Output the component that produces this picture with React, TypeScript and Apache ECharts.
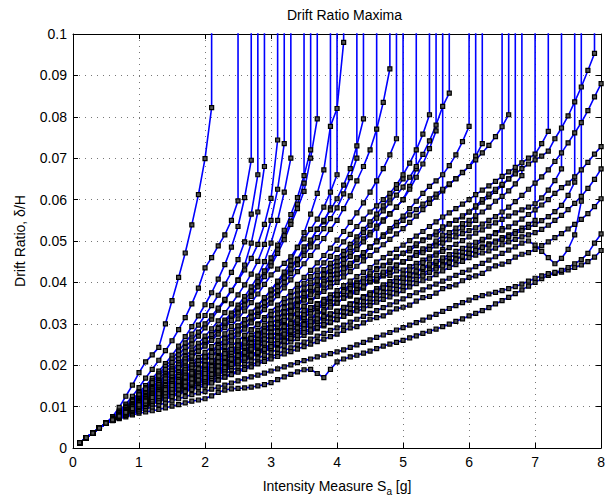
import React, { useEffect, useRef } from "react";
import * as echarts from "echarts";

// Intensity measure step (g) and the elastic branch shared by every record (drift in per mille, Sa = 0.1 .. 0.5)
const SA_STEP = 0.1;
const ELASTIC = [1.3, 2.5, 3.6, 4.8, 6.0];
// drift value used for a collapsed record (off the chart, gives the vertical line)
const COLLAPSE_DRIFT = 10;

const X_TICKS = [0, 1, 2, 3, 4, 5, 6, 7, 8];
const Y_TICKS = [0, 0.01, 0.02, 0.03, 0.04, 0.05, 0.06, 0.07, 0.08, 0.09, 0.1];

// Each record: drift ratio in per mille, from Sa = 0.6 g in steps of 0.1 g
const R01 = [7.6, 9.8, 12.5, 15.2, 18.2, 20.8, 22.5, 24.3, 30.0, 35.6, 41.2, 47.1, 53.9, 61.2, 69.9, 82.2];
const R02 = [7.3, 8.9, 10.6, 12.5, 14.6, 16.9, 19.0, 21.2, 23.5, 25.9, 28.6, 31.5, 34.8, 38.6, 43.5, 46.0, 48.8, 51.5, 55.0, 59.7];
const R03 = [7.1, 8.6, 10.1, 11.7, 13.4, 15.1, 16.8, 18.6, 20.4, 22.4, 24.6, 26.9, 29.3, 31.9, 34.6, 37.5, 40.8, 44.3, 48.5, 53.5, 60.5, 69.5];
const R04 = [7.0, 8.4, 9.9, 11.4, 13.0, 14.6, 16.2, 17.9, 19.7, 21.5, 23.4, 25.4, 27.5, 29.7, 32.0, 34.4, 36.9, 39.6, 42.4, 45.5, 49.8, 56.5, 66.0];
const R05 = [6.9, 8.2, 9.6, 11.0, 12.5, 13.9, 15.3, 16.8, 18.3, 19.9, 21.6, 23.3, 25.1, 27.0, 29.0, 31.1, 33.3, 35.6, 38.0, 40.6, 44.2, 49.5, 57.0, 68.0];
const R06 = [7.0, 8.4, 9.8, 11.3, 12.8, 14.3, 15.8, 17.4, 19.0, 20.7, 22.5, 24.3, 26.1, 28.0, 30.0, 31.9, 33.8, 35.9, 38.1, 40.5, 43.0, 45.8, 49.2, 54.0, 60.3, 74.4];
const R07 = [6.9, 8.1, 9.4, 10.7, 12.0, 13.4, 14.8, 16.2, 17.6, 19.1, 20.6, 22.1, 23.7, 25.3, 27.0, 28.8, 30.7, 32.7, 34.8, 37.0, 39.4, 42.0, 45.1, 49.2, 55.0, 62.5, 73.5];
const R08 = [6.9, 8.0, 9.3, 10.6, 12.0, 13.3, 14.6, 15.9, 17.3, 18.6, 20.0, 21.4, 22.9, 24.4, 26.0, 27.5, 29.2, 30.9, 32.6, 34.5, 36.6, 38.9, 41.5, 45.0, 49.5, 55.0, 61.8, 70.0];
const R09 = [6.8, 7.9, 9.1, 10.3, 11.5, 12.7, 13.9, 15.1, 16.4, 17.7, 19.0, 20.4, 21.8, 23.3, 24.9, 26.5, 28.1, 29.6, 31.3, 33.0, 34.8, 36.9, 39.2, 41.9, 44.8, 47.9, 51.3, 54.8, 58.9, 64.0];
const R10 = [6.9, 8.0, 9.2, 10.5, 11.8, 13.1, 14.4, 15.8, 17.2, 18.6, 20.1, 21.5, 22.9, 24.4, 26.0, 27.4, 28.9, 30.4, 32.1, 33.8, 35.7, 37.9, 40.2, 42.8, 45.9, 49.0, 52.6, 56.4, 60.5, 65.8, 72.0];
const R11 = [6.8, 7.9, 9.0, 10.2, 11.5, 12.7, 14.0, 15.3, 16.7, 18.0, 19.4, 20.8, 22.2, 23.4, 24.6, 26.0, 27.5, 29.1, 30.8, 32.6, 34.5, 36.6, 38.9, 41.4, 44.0, 47.0, 50.3, 54.0, 57.8, 62.0, 70.0, 79.5];
const R12 = [6.8, 7.8, 8.9, 10.0, 11.0, 12.1, 13.2, 14.3, 15.5, 16.7, 17.9, 19.0, 20.2, 21.2, 22.2, 23.4, 24.8, 26.3, 27.8, 29.4, 31.0, 32.7, 34.4, 36.2, 38.0, 40.2, 41.5, 44.1, 45.6, 48.6, 49.8, 52.9, 54.6, 58.0];
const R13 = [6.8, 7.9, 9.0, 10.1, 11.2, 12.4, 13.5, 14.7, 15.9, 17.1, 18.3, 19.5, 20.7, 21.9, 23.1, 24.5, 26.0, 27.6, 29.4, 31.2, 33.1, 35.1, 37.2, 39.5, 41.8, 43.2, 44.6, 46.2, 48.5, 50.5, 52.8, 55.3, 58.2, 61.8, 66.0];
const R14 = [6.8, 7.8, 8.9, 10.0, 11.0, 12.0, 13.0, 14.1, 15.2, 16.4, 17.6, 18.8, 20.0, 21.1, 22.0, 23.3, 24.8, 26.4, 28.0, 29.5, 31.0, 32.8, 34.5, 36.3, 38.2, 40.3, 42.5, 45.2, 48.4, 52.0, 56.5, 61.5, 67.2, 77.7, 82.0, 98.0];
const R15 = [6.8, 7.8, 8.8, 9.8, 10.8, 11.8, 12.8, 13.9, 15.0, 16.1, 17.2, 18.3, 19.4, 20.4, 21.3, 22.4, 23.6, 24.9, 26.3, 27.7, 29.1, 30.6, 32.2, 34.0, 36.0, 38.0, 40.0, 42.1, 44.3, 46.5, 48.6, 50.8, 53.0, 55.4, 58.0, 61.4, 65.3, 70.0];
const R16 = [6.8, 7.8, 8.8, 9.8, 10.9, 12.0, 13.1, 14.2, 15.3, 16.5, 17.7, 18.9, 20.0, 21.0, 22.0, 23.1, 24.3, 25.6, 27.0, 28.5, 30.0, 31.6, 33.3, 35.1, 37.0, 39.0, 41.1, 43.2, 45.5, 47.8, 50.2, 52.8, 55.0, 57.5, 60.2, 63.5, 67.5, 73.0, 79.5];
const R17 = [6.7, 7.6, 8.6, 9.6, 10.5, 11.4, 12.3, 13.2, 14.1, 15.0, 15.9, 16.8, 17.6, 18.3, 19.0, 19.9, 20.9, 22.0, 23.2, 24.3, 25.5, 26.6, 27.7, 28.9, 30.0, 31.2, 32.9, 33.4, 35.3, 35.9, 37.8, 38.2, 40.1, 40.6, 42.0, 43.6, 44.1, 45.9, 46.4, 48.5, 50.0];
const R18 = [6.8, 7.9, 9.0, 10.0, 11.0, 12.0, 13.0, 14.0, 15.1, 16.2, 17.3, 18.3, 19.3, 20.2, 21.0, 22.1, 23.3, 24.5, 25.9, 27.3, 28.7, 30.2, 31.8, 33.4, 35.0, 36.8, 38.7, 40.6, 42.6, 44.5, 46.5, 48.6, 50.6, 52.8, 55.0, 57.8, 60.9, 64.5, 68.0, 72.0, 77.0, 83.5, 91.6];
const R19 = [6.7, 7.7, 8.7, 9.6, 10.6, 11.6, 12.5, 13.5, 14.5, 15.5, 16.5, 17.4, 18.4, 19.3, 20.1, 21.1, 22.2, 23.4, 24.6, 25.9, 27.2, 28.6, 30.0, 31.5, 33.0, 34.5, 36.1, 37.8, 39.5, 41.2, 42.9, 44.7, 46.5, 48.3, 50.2, 52.3, 54.5, 56.8, 59.2, 61.8, 64.5, 67.5, 70.8, 74.7];
const R20 = [6.7, 7.7, 8.7, 9.6, 10.5, 11.4, 12.4, 13.3, 14.3, 15.3, 16.3, 17.3, 18.2, 19.0, 19.6, 20.5, 21.5, 22.6, 23.7, 24.9, 26.0, 27.2, 28.4, 29.7, 31.0, 32.4, 33.9, 35.5, 37.0, 38.6, 40.1, 41.7, 43.1, 44.6, 46.0, 47.5, 49.2, 51.0, 52.8, 54.6, 56.5, 58.5, 60.6, 62.7, 65.0];
const R21 = [6.7, 7.6, 8.6, 9.5, 10.3, 11.2, 12.2, 13.1, 14.0, 15.0, 15.9, 16.8, 17.6, 18.4, 19.0, 19.9, 20.9, 21.9, 22.9, 24.0, 25.1, 26.3, 27.5, 28.7, 30.0, 31.4, 32.8, 34.3, 35.8, 37.4, 38.8, 40.2, 41.6, 42.9, 44.0, 45.5, 47.1, 48.8, 50.5, 52.1, 53.6, 55.1, 56.6, 58.2, 60.0, 63.2, 67.4];
const R22 = [6.8, 7.7, 8.7, 9.6, 10.6, 11.6, 12.6, 13.6, 14.6, 15.6, 16.6, 17.6, 18.5, 19.3, 20.0, 21.0, 22.1, 23.3, 24.6, 25.9, 27.2, 28.5, 29.8, 31.0, 32.2, 33.6, 35.1, 36.6, 38.2, 39.8, 41.4, 43.0, 44.7, 46.3, 48.0, 49.8, 51.6, 53.5, 55.3, 57.0, 58.5, 60.0, 61.5, 63.6, 66.0, 68.8, 72.0, 75.8, 80.5];
const R23 = [6.7, 7.6, 8.5, 9.4, 10.2, 11.1, 12.0, 12.9, 13.8, 14.7, 15.6, 16.4, 17.2, 17.9, 18.5, 19.4, 20.4, 21.4, 22.4, 23.4, 24.5, 25.6, 26.7, 27.9, 29.0, 30.3, 31.7, 33.1, 34.6, 36.0, 37.4, 38.9, 40.3, 41.7, 43.0, 44.6, 46.3, 48.0, 49.8, 51.5, 53.1, 54.8, 56.5, 58.2, 60.0, 62.5, 65.4, 68.6, 72.3, 76.6];
const R24 = [6.7, 7.6, 8.4, 9.2, 10.0, 10.8, 11.6, 12.4, 13.1, 13.8, 14.6, 15.3, 16.0, 16.5, 17.0, 17.9, 18.9, 19.9, 20.9, 21.9, 22.9, 23.9, 25.0, 26.0, 27.0, 28.0, 29.0, 29.9, 30.9, 31.8, 32.7, 33.6, 34.4, 35.2, 36.0, 37.2, 37.3, 38.6, 38.9, 40.2, 40.3, 41.6, 41.7, 42.8, 43.0, 43.8, 44.6, 45.4, 46.2, 47.1, 48.0];
const R25 = [6.7, 7.7, 8.6, 9.5, 10.4, 11.3, 12.3, 13.2, 14.2, 15.2, 16.1, 17.0, 17.9, 18.5, 19.0, 20.0, 21.0, 22.1, 23.2, 24.3, 25.4, 26.5, 27.6, 28.8, 30.0, 31.4, 32.8, 34.3, 35.8, 37.3, 38.8, 40.4, 41.9, 43.5, 45.0, 46.7, 48.4, 50.2, 52.0, 53.8, 55.5, 57.3, 59.2, 61.1, 63.0, 65.4, 68.0, 70.9, 74.2, 78.0, 82.5, 85.7];
const R26 = [6.7, 7.6, 8.5, 9.3, 10.1, 10.9, 11.8, 12.7, 13.6, 14.5, 15.4, 16.2, 17.0, 17.6, 18.1, 18.9, 19.8, 20.7, 21.7, 22.7, 23.7, 24.8, 25.8, 26.9, 28.0, 29.2, 30.4, 31.7, 33.0, 34.3, 35.6, 37.0, 38.4, 39.7, 41.0, 42.5, 44.0, 45.5, 47.0, 48.5, 50.0, 51.5, 53.0, 54.5, 56.0, 57.8, 59.6, 61.5, 63.2, 64.5, 66.0, 68.2, 70.8, 74.0, 77.7];
const R27 = [6.7, 7.5, 8.4, 9.2, 9.9, 10.7, 11.5, 12.3, 13.1, 13.9, 14.7, 15.4, 16.1, 16.6, 17.1, 17.9, 18.8, 19.8, 20.7, 21.6, 22.5, 23.4, 24.3, 25.2, 26.1, 27.3, 27.6, 29.1, 29.4, 30.9, 31.2, 32.7, 33.0, 34.5, 35.0, 36.2, 36.7, 38.2, 38.6, 40.1, 40.6, 42.1, 42.5, 44.1, 44.9, 45.8, 46.8, 47.7, 48.6, 49.5, 50.4, 51.3, 52.2, 53.1, 54.0, 55.0];
const R28 = [6.7, 7.6, 8.5, 9.3, 10.1, 11.0, 11.9, 12.8, 13.7, 14.6, 15.5, 16.3, 17.1, 17.7, 18.2, 19.2, 20.3, 21.4, 22.5, 23.6, 24.5, 25.3, 26.2, 27.1, 28.0, 29.3, 30.6, 31.9, 33.1, 34.2, 35.4, 36.6, 37.8, 38.9, 40.0, 41.3, 42.6, 43.9, 45.2, 46.5, 47.8, 49.1, 50.4, 51.7, 53.0, 54.5, 56.0, 57.6, 59.1, 60.6, 62.1, 63.6, 65.1, 66.6, 68.0, 70.5, 73.5];
const R29 = [6.7, 7.5, 8.3, 9.0, 9.7, 10.5, 11.3, 12.0, 12.8, 13.5, 14.3, 15.0, 15.6, 16.1, 16.5, 17.3, 18.1, 19.0, 19.9, 20.8, 21.7, 22.5, 23.4, 24.2, 25.0, 25.9, 26.7, 27.6, 28.4, 29.3, 30.1, 30.9, 31.6, 32.3, 33.0, 33.9, 34.7, 35.6, 36.4, 37.3, 38.1, 38.9, 39.6, 40.3, 41.0, 41.8, 42.5, 43.3, 44.0, 44.7, 45.4, 46.0, 46.7, 47.3, 48.0, 49.0, 50.0, 51.0, 52.0, 53.0];
const R30 = [6.7, 7.6, 8.5, 9.3, 10.1, 11.0, 11.9, 12.8, 13.7, 14.7, 15.7, 16.7, 17.5, 18.1, 18.6, 19.7, 20.8, 21.9, 23.1, 24.2, 25.3, 26.4, 27.5, 28.3, 29.0, 30.3, 31.6, 33.0, 34.4, 35.7, 37.0, 38.3, 39.6, 40.9, 42.0, 43.3, 44.6, 45.9, 47.2, 48.5, 49.8, 51.1, 52.4, 53.7, 55.0, 56.3, 57.6, 58.9, 60.2, 61.3, 62.5, 63.8, 65.0, 66.5, 68.0, 69.6, 71.3, 73.1, 75.2, 77.6, 80.5];
const R31 = [6.7, 7.5, 8.4, 9.2, 9.8, 10.6, 11.4, 12.2, 13.0, 13.8, 14.6, 15.4, 16.1, 16.6, 17.0, 17.9, 18.8, 19.7, 20.6, 21.6, 22.5, 23.4, 24.3, 25.2, 26.0, 27.1, 28.2, 29.3, 30.4, 31.5, 32.6, 33.8, 34.9, 36.0, 37.0, 38.2, 39.5, 40.1, 40.6, 41.8, 43.4, 44.1, 44.8, 46.2, 47.0, 47.6, 48.9, 50.3, 51.0, 51.5, 52.9, 54.2, 55.0, 55.8, 57.0, 58.2, 59.4, 60.7, 62.0, 63.4, 65.0, 66.7];
const R32 = [6.7, 7.5, 8.3, 9.0, 9.6, 10.4, 11.2, 12.0, 12.8, 13.6, 14.4, 15.1, 15.7, 16.1, 16.5, 17.3, 18.2, 19.1, 20.0, 20.9, 21.8, 22.6, 23.4, 24.2, 25.0, 26.1, 27.1, 28.2, 29.2, 30.1, 31.1, 32.1, 33.1, 34.0, 35.0, 36.2, 37.0, 37.6, 38.9, 40.3, 41.0, 41.8, 43.1, 44.2, 45.0, 45.8, 47.2, 48.1, 48.7, 50.0, 51.4, 52.0, 53.1, 54.2, 55.0, 56.1, 57.0, 58.2, 59.6, 60.8, 62.1, 63.8, 65.8];
const R33 = [6.7, 7.5, 8.2, 8.9, 9.5, 10.2, 11.0, 11.8, 12.6, 13.3, 14.0, 14.7, 15.3, 15.7, 16.0, 16.9, 17.7, 18.6, 19.5, 20.4, 21.2, 22.0, 22.8, 23.4, 24.0, 24.9, 25.6, 26.4, 27.4, 28.2, 28.9, 29.7, 30.6, 31.2, 32.0, 32.9, 33.7, 34.4, 35.3, 36.1, 36.8, 37.6, 38.5, 39.2, 40.0, 40.8, 41.5, 42.2, 43.0, 43.6, 44.3, 45.1, 45.7, 46.3, 47.0, 47.8, 48.6, 49.3, 50.0, 50.8, 51.5, 52.3, 53.1, 54.0, 55.0];
const R34 = [6.7, 7.5, 8.4, 9.2, 9.8, 10.7, 11.6, 12.5, 13.4, 14.3, 15.2, 16.0, 16.7, 17.2, 17.5, 18.5, 19.5, 20.5, 21.5, 22.5, 23.5, 24.5, 25.5, 26.3, 27.0, 28.2, 29.4, 30.4, 31.3, 32.5, 33.8, 34.9, 35.9, 37.0, 38.0, 39.2, 40.3, 41.4, 42.4, 43.6, 44.9, 46.0, 47.0, 48.0, 49.0, 50.1, 51.2, 52.3, 53.5, 54.6, 55.8, 56.8, 57.8, 58.9, 60.0, 61.2, 62.3, 63.3, 64.4, 65.6, 66.7, 67.8, 68.9, 70.0, 71.0, 73.5, 76.5];
const R35 = [6.7, 7.5, 8.2, 8.9, 9.5, 10.2, 10.9, 11.7, 12.5, 13.3, 14.1, 14.8, 15.4, 15.8, 16.0, 16.9, 17.7, 18.6, 19.5, 20.4, 21.2, 22.0, 22.8, 23.4, 24.0, 25.0, 25.9, 26.9, 27.8, 28.8, 29.7, 30.6, 31.4, 32.3, 33.0, 34.0, 34.8, 35.7, 36.6, 37.5, 38.5, 39.4, 40.2, 41.1, 42.0, 43.0, 43.9, 44.8, 45.7, 46.6, 47.5, 48.4, 49.2, 50.1, 51.0, 51.9, 52.7, 53.6, 54.4, 55.2, 56.0, 56.8, 57.5, 58.2, 59.0, 60.4, 62.3, 64.6, 67.4];
const R36 = [6.7, 7.4, 8.1, 8.8, 9.3, 10.0, 10.7, 11.4, 12.1, 12.8, 13.5, 14.2, 14.8, 15.2, 15.5, 16.3, 17.1, 17.9, 18.7, 19.5, 20.2, 21.0, 21.7, 22.4, 23.0, 23.9, 24.7, 25.6, 26.4, 27.2, 28.0, 28.8, 29.5, 30.3, 31.0, 31.9, 32.7, 33.6, 34.4, 35.2, 36.0, 36.8, 37.6, 38.3, 39.0, 39.9, 40.7, 41.6, 42.4, 43.2, 44.0, 44.8, 45.6, 46.3, 47.0, 47.7, 48.4, 49.0, 49.7, 50.4, 51.1, 51.8, 52.5, 53.3, 54.0, 54.9, 55.9, 57.1, 58.6, 61.0, 64.2];
const R37 = [6.7, 7.4, 8.1, 8.7, 9.2, 9.9, 10.6, 11.3, 12.0, 12.6, 13.3, 13.9, 14.4, 14.8, 15.0, 15.8, 16.5, 17.2, 18.0, 18.7, 19.4, 20.1, 20.8, 21.4, 22.0, 22.8, 23.5, 24.2, 24.9, 25.6, 26.3, 27.0, 27.7, 28.4, 29.0, 29.7, 30.4, 31.1, 31.8, 32.5, 33.2, 33.9, 34.6, 35.3, 36.0, 36.8, 37.5, 38.2, 38.9, 39.6, 40.3, 41.0, 41.7, 42.4, 43.0, 43.8, 44.6, 45.4, 46.2, 47.0, 47.8, 48.6, 49.5, 50.0, 49.0, 47.5, 46.0, 44.5, 45.8, 48.0, 51.5, 59.6];
const R38 = [6.7, 7.5, 8.4, 9.2, 9.8, 10.7, 11.6, 12.5, 13.4, 14.3, 15.2, 16.0, 16.7, 17.2, 17.5, 18.4, 19.4, 20.4, 21.4, 22.4, 23.4, 24.4, 25.4, 26.3, 27.0, 28.1, 29.3, 30.1, 30.9, 32.2, 33.4, 34.1, 35.0, 36.2, 37.0, 38.1, 39.0, 39.8, 41.0, 42.3, 43.1, 44.0, 45.2, 46.1, 47.0, 48.2, 49.3, 50.1, 51.0, 52.2, 53.4, 54.1, 55.0, 56.1, 57.0, 58.5, 60.0, 61.3, 62.5, 63.7, 65.0, 66.2, 67.5, 68.6, 69.6, 70.5, 71.7, 74.7, 77.3, 80.2, 83.6, 87.2, 91.2, 95.3];
const R39 = [6.6, 7.1, 7.5, 8.0, 8.4, 8.7, 9.0, 9.3, 9.7, 10.1, 10.5, 10.9, 11.3, 11.6, 11.9, 12.6, 13.4, 14.0, 14.3, 14.4, 14.5, 14.7, 15.0, 15.3, 15.8, 16.5, 17.2, 17.8, 18.4, 18.9, 19.0, 18.0, 17.0, 19.0, 20.8, 21.5, 22.0, 22.4, 22.9, 23.4, 24.0, 24.6, 25.1, 25.5, 26.0, 26.6, 27.1, 27.7, 28.2, 28.7, 29.3, 29.9, 30.6, 31.2, 31.9, 32.5, 33.2, 33.9, 34.8, 35.6, 36.4, 37.3, 38.2, 39.1, 40.0, 40.9, 41.7, 42.2, 42.5, 43.0, 43.6, 44.2, 45.0, 46.1, 47.7];
const R40 = [6.7, 7.3, 7.9, 8.4, 8.9, 9.4, 9.9, 10.4, 10.9, 11.4, 11.9, 12.4, 12.9, 13.3, 13.6, 14.2, 14.7, 15.2, 15.7, 16.2, 16.7, 17.2, 17.6, 18.1, 18.6, 19.1, 19.6, 20.1, 20.6, 21.1, 21.5, 22.0, 22.4, 22.8, 23.2, 23.7, 24.3, 24.9, 25.5, 26.1, 26.7, 27.3, 27.9, 28.5, 29.1, 29.7, 30.3, 30.9, 31.6, 32.3, 33.0, 33.7, 34.4, 35.1, 35.7, 36.3, 36.8, 37.2, 37.6, 38.0, 38.5, 39.0, 39.6, 40.3, 41.0, 41.6, 42.1, 42.4, 42.9, 43.6, 44.5, 45.5, 47.0, 49.5, 51.7];
const R41 = [6.7, 7.5, 8.2, 8.8, 9.4, 10.0, 10.6, 11.2, 11.8, 12.4, 13.0, 13.6, 14.1, 14.6, 15.0, 15.7, 16.4, 17.1, 17.7, 18.3, 19.0, 19.6, 20.3, 20.9, 21.5, 22.1, 22.7, 23.3, 23.9, 24.5, 25.1, 25.7, 26.3, 26.9, 27.5, 28.4, 29.0, 29.3, 30.2, 31.1, 31.5, 31.9, 32.8, 33.6, 34.0, 34.5, 35.5, 36.3, 36.6, 37.4, 38.5, 39.0, 39.4, 40.4, 41.2, 41.6, 42.2, 43.3, 44.0, 44.4, 45.0, 46.1, 46.8, 47.2, 48.0, 48.9, 49.8, 50.8, 51.8, 52.9, 54.0, 55.2, 56.6, 58.3, 60.2];
const R42 = [6.7, 7.5, 8.3, 9.1, 9.8, 10.5, 11.2, 11.9, 12.6, 13.4, 14.2, 15.0, 15.7, 16.4, 17.0, 17.8, 18.6, 19.4, 20.2, 21.0, 21.7, 22.4, 23.1, 23.8, 24.5, 25.2, 25.8, 26.5, 27.2, 27.9, 28.5, 29.1, 29.8, 30.4, 31.0, 31.8, 32.5, 33.1, 33.6, 34.4, 35.2, 35.9, 36.5, 37.2, 38.0, 38.9, 39.7, 40.4, 41.0, 41.9, 42.8, 43.6, 44.3, 45.1, 46.0, 46.6, 47.1, 47.6, 48.3, 49.1, 49.8, 50.4, 51.0, 51.5, 52.0, 52.8, 53.8, 55.0, 56.2, 57.6, 59.1, 60.8, 62.7, 64.9, 67.4];
const R43 = [6.7, 7.6, 8.4, 9.2, 10.0, 10.8, 11.6, 12.4, 13.3, 14.2, 15.0, 15.9, 16.7, 17.4, 18.0, 18.9, 19.8, 20.7, 21.5, 22.3, 23.1, 23.9, 24.6, 25.3, 26.0, 26.8, 27.5, 28.3, 29.0, 29.8, 30.5, 31.2, 31.8, 32.4, 33.0, 33.9, 34.7, 35.6, 36.4, 37.1, 37.9, 38.7, 39.5, 40.2, 41.0, 41.9, 42.7, 43.6, 44.4, 45.1, 45.9, 46.7, 47.5, 48.2, 49.0, 49.7, 50.4, 51.1, 51.8, 52.6, 53.4, 54.3, 55.3, 56.4, 57.5, 58.7, 60.0, 61.5, 62.9, 64.0, 65.5, 67.2, 69.0, 71.0, 72.8];
const R44 = [6.8, 7.7, 8.6, 9.5, 10.4, 11.3, 12.2, 13.1, 14.1, 15.1, 16.1, 17.1, 18.1, 19.1, 20.0, 21.0, 21.9, 22.8, 23.8, 24.7, 25.6, 26.5, 27.3, 28.2, 29.0, 29.9, 30.8, 31.6, 32.4, 33.2, 33.9, 34.7, 35.5, 36.3, 37.0, 37.8, 38.5, 39.3, 40.1, 40.9, 41.7, 42.5, 43.3, 44.1, 45.0, 45.8, 46.5, 47.2, 48.0, 48.8, 49.5, 50.3, 51.0, 51.8, 52.5, 53.2, 54.1, 55.0, 55.9, 57.0, 58.2, 59.5, 61.0, 62.5, 64.0, 65.5, 67.2, 69.2, 71.3, 73.7, 76.1, 78.6, 81.5, 84.8, 88.0];

// Records that collapsed (curve ends with a vertical line) and records that survived to 8 g
const COLLAPSED = [R01, R02, R03, R04, R05, R06, R07, R08, R09, R10, R11, R12, R13, R14, R15, R16, R17, R18, R19, R20, R21, R22, R23, R24, R25, R26, R27, R28, R29, R30, R31, R32, R33, R34, R35, R36, R37, R38];
const SURVIVED = [R39, R40, R41, R42, R43, R44];

const FONT = '"Liberation Sans", Arial, Helvetica, sans-serif';

function toPoints(values: number[], collapsed: boolean) {
  const drifts = [...ELASTIC, ...values];
  const pts: number[][] = drifts.map((d, i) => [Math.round((i + 1) * SA_STEP * 10) / 10, d / 1000]);
  if (collapsed) pts.push([pts[pts.length - 1][0], COLLAPSE_DRIFT]);
  return pts;
}

export default function App() {
  const ref = useRef<HTMLDivElement>(null);
  useEffect(() => {
    if (!ref.current) return;
    const chart = echarts.init(ref.current, undefined, { renderer: "svg" });
    const records = [
      ...COLLAPSED.map((v) => ({ v, c: true })),
      ...SURVIVED.map((v) => ({ v, c: false })),
    ];
    const series = records.map((r, i) => ({
      type: "line",
      name: "GM" + (i + 1),
      data: toPoints(r.v, r.c),
      clip: true,
      symbol: "rect",
      symbolSize: 4,
      showSymbol: true,
      lineStyle: { color: "#0000ff", width: 1.6 },
      itemStyle: { color: "#555", borderColor: "#000", borderWidth: 1.2 },
      silent: true,
      z: 2,
    }));
    const labelStyle = { fontFamily: FONT, fontSize: 14, color: "#000" };
    chart.setOption({
      animation: false,
      title: {
        text: "Drift Ratio Maxima",
        left: 339.5,
        top: 3,
        textAlign: "center",
        textStyle: { fontFamily: FONT, fontSize: 14, fontWeight: "normal", color: "#000" },
      },
      grid: { left: 73, right: 2, top: 34, bottom: 47, containLabel: false },
      xAxis: [
        {
          type: "value",
          min: X_TICKS[0],
          max: X_TICKS[X_TICKS.length - 1],
          interval: 1,
          name: "Intensity Measure S{sub|a} [g]",
          nameLocation: "middle",
          nameGap: 28,
          nameTextStyle: {
            ...labelStyle,
            rich: { sub: { fontFamily: FONT, fontSize: 10, padding: [10, 0, 0, 0], color: "#000" } },
          },
          axisLine: { show: true, onZero: false, lineStyle: { color: "#000", width: 1 } },
          axisTick: { show: true, inside: true, length: 5, lineStyle: { color: "#000" } },
          axisLabel: { ...labelStyle, margin: 7, showMaxLabel: true, showMinLabel: true },
          splitLine: { show: true, lineStyle: { color: "#777", type: [1, 5], width: 1 } },
        },
        {
          type: "value",
          position: "top",
          min: X_TICKS[0],
          max: X_TICKS[X_TICKS.length - 1],
          interval: 1,
          axisLine: { show: true, onZero: false, lineStyle: { color: "#000", width: 1 } },
          axisTick: { show: true, inside: true, length: 5, lineStyle: { color: "#000" } },
          axisLabel: { show: false },
          splitLine: { show: false },
        },
      ],
      yAxis: [
        {
          type: "value",
          min: Y_TICKS[0],
          max: Y_TICKS[Y_TICKS.length - 1],
          interval: 0.01,
          name: "Drift Ratio, δ/H",
          nameLocation: "middle",
          nameGap: 46,
          nameTextStyle: labelStyle,
          axisLine: { show: true, onZero: false, lineStyle: { color: "#000", width: 1 } },
          axisTick: { show: true, inside: true, length: 5, lineStyle: { color: "#000" } },
          axisLabel: {
            ...labelStyle,
            margin: 6,
            formatter: (v: number) => String(Number(v.toFixed(2))),
          },
          splitLine: { show: true, lineStyle: { color: "#777", type: [1, 5], width: 1 } },
        },
        {
          type: "value",
          position: "right",
          min: Y_TICKS[0],
          max: Y_TICKS[Y_TICKS.length - 1],
          interval: 0.01,
          axisLine: { show: true, onZero: false, lineStyle: { color: "#000", width: 1 } },
          axisTick: { show: true, inside: true, length: 5, lineStyle: { color: "#000" } },
          axisLabel: { show: false },
          splitLine: { show: false },
        },
      ],
      series,
    });
    return () => chart.dispose();
  }, []);
  return (
    <div
      ref={ref}
      style={{ position: "fixed", left: 0, top: 0, width: 608, height: 501, background: "#fff" }}
    />
  );
}
